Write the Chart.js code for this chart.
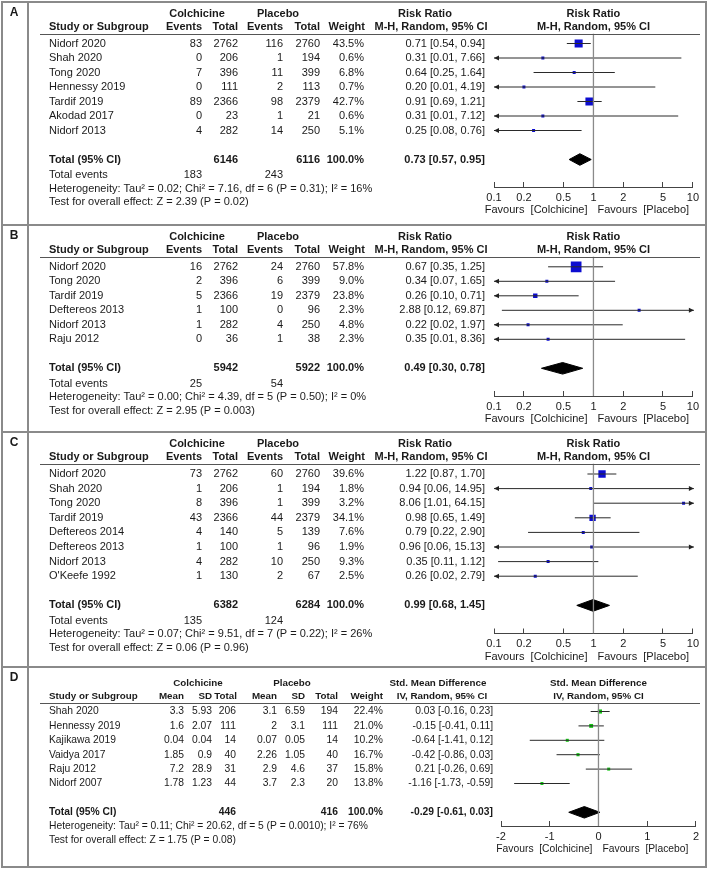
<!DOCTYPE html>
<html>
<head>
<meta charset="utf-8">
<script src="https://cdn.jsdelivr.net/npm/chart.js@4.4.1/dist/chart.umd.min.js"></script>
<style>
html, body { margin: 0; padding: 0; background: #fff; }
#wrap { position: relative; width: 708px; height: 869px; overflow: hidden; }
canvas { position: absolute; left: 0; }
.ln { position: absolute; background: #8a8a8a; }
</style>
</head>
<body>
<div id="wrap">
  <canvas id="cA"></canvas>
  <canvas id="cB"></canvas>
  <canvas id="cC"></canvas>
  <canvas id="cD"></canvas>
  <div class="ln" style="left:1px;top:1px;width:706px;height:2px"></div>
  <div class="ln" style="left:1px;top:866px;width:706px;height:2px"></div>
  <div class="ln" style="left:1px;top:1px;width:2px;height:867px"></div>
  <div class="ln" style="left:705px;top:1px;width:2px;height:867px"></div>
  <div class="ln" style="left:27px;top:1px;width:2px;height:867px"></div>
  <div class="ln" style="left:1px;top:224px;width:706px;height:2px"></div>
  <div class="ln" style="left:1px;top:431px;width:706px;height:2px"></div>
  <div class="ln" style="left:1px;top:666px;width:706px;height:2px"></div>
</div>
<script>
// ---- A: risk ratio, first outcome
const studiesA = ['Nidorf 2020', 'Shah 2020', 'Tong 2020', 'Hennessy 2019', 'Tardif 2019', 'Akodad 2017', 'Nidorf 2013'];
const colEventsA = [83, 0, 7, 0, 89, 0, 4];
const colTotalA = [2762, 206, 396, 111, 2366, 23, 282];
const plaEventsA = [116, 1, 11, 2, 98, 1, 14];
const plaTotalA = [2760, 194, 399, 113, 2379, 21, 250];
const weightA = [43.5, 0.6, 6.8, 0.7, 42.7, 0.6, 5.1];
const rrA = [0.71, 0.31, 0.64, 0.20, 0.91, 0.31, 0.25];
const loA = [0.54, 0.01, 0.25, 0.01, 0.69, 0.01, 0.08];
const hiA = [0.94, 7.66, 1.64, 4.19, 1.21, 7.12, 0.76];
const totalA = [0.73, 0.57, 0.95];
const sumsA = [6146, 6116];
const eventsA = [183, 243];
const hetA = 'Heterogeneity: Tau² = 0.02; Chi² = 7.16, df = 6 (P = 0.31); I² = 16%';
const testA = 'Test for overall effect: Z = 2.39 (P = 0.02)';

// ---- B
const studiesB = ['Nidorf 2020', 'Tong 2020', 'Tardif 2019', 'Deftereos 2013', 'Nidorf 2013', 'Raju 2012'];
const colEventsB = [16, 2, 5, 1, 1, 0];
const colTotalB = [2762, 396, 2366, 100, 282, 36];
const plaEventsB = [24, 6, 19, 0, 4, 1];
const plaTotalB = [2760, 399, 2379, 96, 250, 38];
const weightB = [57.8, 9.0, 23.8, 2.3, 4.8, 2.3];
const rrB = [0.67, 0.34, 0.26, 2.88, 0.22, 0.35];
const loB = [0.35, 0.07, 0.10, 0.12, 0.02, 0.01];
const hiB = [1.25, 1.65, 0.71, 69.87, 1.97, 8.36];
const totalB = [0.49, 0.30, 0.78];
const sumsB = [5942, 5922];
const eventsB = [25, 54];
const hetB = 'Heterogeneity: Tau² = 0.00; Chi² = 4.39, df = 5 (P = 0.50); I² = 0%';
const testB = 'Test for overall effect: Z = 2.95 (P = 0.003)';

// ---- C
const studiesC = ['Nidorf 2020', 'Shah 2020', 'Tong 2020', 'Tardif 2019', 'Deftereos 2014', 'Deftereos 2013', 'Nidorf 2013', "O'Keefe 1992"];
const colEventsC = [73, 1, 8, 43, 4, 1, 4, 1];
const colTotalC = [2762, 206, 396, 2366, 140, 100, 282, 130];
const plaEventsC = [60, 1, 1, 44, 5, 1, 10, 2];
const plaTotalC = [2760, 194, 399, 2379, 139, 96, 250, 67];
const weightC = [39.6, 1.8, 3.2, 34.1, 7.6, 1.9, 9.3, 2.5];
const rrC = [1.22, 0.94, 8.06, 0.98, 0.79, 0.96, 0.35, 0.26];
const loC = [0.87, 0.06, 1.01, 0.65, 0.22, 0.06, 0.11, 0.02];
const hiC = [1.70, 14.95, 64.15, 1.49, 2.90, 15.13, 1.12, 2.79];
const totalC = [0.99, 0.68, 1.45];
const sumsC = [6382, 6284];
const eventsC = [135, 124];
const hetC = 'Heterogeneity: Tau² = 0.07; Chi² = 9.51, df = 7 (P = 0.22); I² = 26%';
const testC = 'Test for overall effect: Z = 0.06 (P = 0.96)';

// ---- D: std. mean difference
const studiesD = ['Shah 2020', 'Hennessy 2019', 'Kajikawa 2019', 'Vaidya 2017', 'Raju 2012', 'Nidorf 2007'];
const colMeanD = [3.3, 1.6, 0.04, 1.85, 7.2, 1.78];
const colSdD = [5.93, 2.07, 0.04, 0.9, 28.9, 1.23];
const colND = [206, 111, 14, 40, 31, 44];
const plaMeanD = [3.1, 2, 0.07, 2.26, 2.9, 3.7];
const plaSdD = [6.59, 3.1, 0.05, 1.05, 4.6, 2.3];
const plaND = [194, 111, 14, 40, 37, 20];
const weightD = [22.4, 21.0, 10.2, 16.7, 15.8, 13.8];
const smdD = [0.03, -0.15, -0.64, -0.42, 0.21, -1.16];
const loD = [-0.16, -0.41, -1.41, -0.86, -0.26, -1.73];
const hiD = [0.23, 0.11, 0.12, 0.03, 0.69, -0.59];
const totalD = [-0.29, -0.61, 0.03];
const sumsD = [446, 416];
const hetD = 'Heterogeneity: Tau² = 0.11; Chi² = 20.62, df = 5 (P = 0.0010); I² = 76%';
const testD = 'Test for overall effect: Z = 1.75 (P = 0.08)';

const rrTicks = [0.1, 0.2, 0.5, 1, 2, 5, 10];
const smdTicks = [-2, -1, 0, 1, 2];

const FONT = '"Liberation Sans", Arial, sans-serif';
const INK = '#1a1a1a';

function f2(v) { return v.toFixed(2); }
function ci(e, l, h) { return f2(e) + ' [' + f2(l) + ', ' + f2(h) + ']'; }

let fsize = 11;
function txt(ctx, s, x, y, align, bold, size) {
    ctx.font = (bold ? 'bold ' : '') + (size || fsize) + 'px ' + FONT;
    ctx.textAlign = align;
    ctx.fillText(s, x, y);
}

function arrow(ctx, x, y, dir) {
    ctx.beginPath();
    ctx.moveTo(x, y);
    ctx.lineTo(x - dir * 5, y - 2.5);
    ctx.lineTo(x - dir * 5, y + 2.5);
    ctx.closePath();
    ctx.fill();
}

const rrHead2 = [['Study or Subgroup', 49, 'left'], ['Events', 202, 'right'], ['Total', 238, 'right'],
    ['Events', 283, 'right'], ['Total', 320, 'right'], ['Weight', 365, 'right'], ['M-H, Random, 95% CI', 431, 'center']];
const rrHead1 = [['Colchicine', 197, 'center'], ['Placebo', 278, 'center'], ['Risk Ratio', 425, 'center']];

const panels = [
    { id: 'cA', label: 'A', top: 2, bottom: 225, headerY: 33.5, firstY: 43.5, step: 14.5, axisY: 187,
      log: true, xmin: 0.1, xmax: 10, ticks: rrTicks, ref: 1, mark: '#0c0cd0', fs: 11, hfs: 11,
      names: studiesA, est: rrA, lo: loA, hi: hiA, weight: weightA, total: totalA,
      cols: [[colEventsA, 202], [colTotalA, 238], [plaEventsA, 283], [plaTotalA, 320]],
      sums: [[sumsA[0], 238], [sumsA[1], 320]], events: [[eventsA[0], 202], [eventsA[1], 283]],
      wX: 364, ciX: 485, head1: rrHead1, head2: rrHead2, plotHead: ['Risk Ratio', 'M-H, Random, 95% CI'],
      het: hetA, test: testA },
    { id: 'cB', label: 'B', top: 225, bottom: 432, headerY: 256.5, firstY: 266.8, step: 14.5, axisY: 396,
      log: true, xmin: 0.1, xmax: 10, ticks: rrTicks, ref: 1, mark: '#0c0cd0', fs: 11, hfs: 11,
      names: studiesB, est: rrB, lo: loB, hi: hiB, weight: weightB, total: totalB,
      cols: [[colEventsB, 202], [colTotalB, 238], [plaEventsB, 283], [plaTotalB, 320]],
      sums: [[sumsB[0], 238], [sumsB[1], 320]], events: [[eventsB[0], 202], [eventsB[1], 283]],
      wX: 364, ciX: 485, head1: rrHead1, head2: rrHead2, plotHead: ['Risk Ratio', 'M-H, Random, 95% CI'],
      het: hetB, test: testB },
    { id: 'cC', label: 'C', top: 432, bottom: 667, headerY: 463.5, firstY: 474, step: 14.6, axisY: 633.5,
      log: true, xmin: 0.1, xmax: 10, ticks: rrTicks, ref: 1, mark: '#0c0cd0', fs: 11, hfs: 11,
      names: studiesC, est: rrC, lo: loC, hi: hiC, weight: weightC, total: totalC,
      cols: [[colEventsC, 202], [colTotalC, 238], [plaEventsC, 283], [plaTotalC, 320]],
      sums: [[sumsC[0], 238], [sumsC[1], 320]], events: [[eventsC[0], 202], [eventsC[1], 283]],
      wX: 364, ciX: 485, head1: rrHead1, head2: rrHead2, plotHead: ['Risk Ratio', 'M-H, Random, 95% CI'],
      het: hetC, test: testC },
    { id: 'cD', label: 'D', top: 667, bottom: 867, headerY: 703, firstY: 711.5, step: 14.4, axisY: 826,
      log: false, xmin: -2, xmax: 2, ticks: smdTicks, ref: 0, mark: '#14c814', plotL: 501, plotR: 697,
      fs: 10.3, hfs: 9.8,
      names: studiesD, est: smdD, lo: loD, hi: hiD, weight: weightD, total: totalD,
      cols: [[colMeanD, 184], [colSdD, 212], [colND, 236], [plaMeanD, 277], [plaSdD, 305], [plaND, 338]],
      sums: [[sumsD[0], 236], [sumsD[1], 338]], events: null,
      wX: 383, ciX: 493,
      head1: [['Colchicine', 198, 'center'], ['Placebo', 292, 'center'], ['Std. Mean Difference', 438, 'center']],
      head2: [['Study or Subgroup', 49, 'left'], ['Mean', 184, 'right'], ['SD', 212, 'right'], ['Total', 237, 'right'],
          ['Mean', 277, 'right'], ['SD', 305, 'right'], ['Total', 338, 'right'], ['Weight', 383, 'right'],
          ['IV, Random, 95% CI', 442, 'center']],
      plotHead: ['Std. Mean Difference', 'IV, Random, 95% CI'],
      het: hetD, test: testD }
];

function tablePlugin(p) {
    const n = p.names.length;
    return {
        id: 'table' + p.label,
        afterDatasetsDraw(chart) {
            const ctx = chart.ctx, a = chart.chartArea, ys = chart.scales.y;
            ctx.save();
            ctx.fillStyle = '#222';
            for (let i = 0; i < n; i++) {
                const y = ys.getPixelForValue(i);
                if (p.lo[i] <= p.xmin) arrow(ctx, a.left, y, -1);
                if (p.hi[i] >= p.xmax) arrow(ctx, a.right + 1, y, 1);
            }
            ctx.restore();
        },
        afterDraw(chart) {
            const ctx = chart.ctx, a = chart.chartArea, xs = chart.scales.x, ys = chart.scales.y;
            const top = a.top;
            fsize = p.fs;
            ctx.save();
            ctx.fillStyle = INK;
            ctx.textBaseline = 'middle';
            ctx.font = 'bold 12px ' + FONT;
            ctx.textAlign = 'center';
            ctx.fillText(p.label, 14, 11);

            p.head1.forEach(h => txt(ctx, h[0], h[1], top - 20, h[2], true, p.hfs));
            p.head2.forEach(h => txt(ctx, h[0], h[1], top - 6.5, h[2], true, p.hfs));
            const mid = xs.getPixelForValue(p.ref);
            txt(ctx, p.plotHead[0], mid, top - 20, 'center', true, p.hfs);
            txt(ctx, p.plotHead[1], mid, top - 6.5, 'center', true, p.hfs);

            ctx.strokeStyle = '#555';
            ctx.lineWidth = 1;
            ctx.beginPath();
            ctx.moveTo(40, Math.round(top) + 0.5);
            ctx.lineTo(700, Math.round(top) + 0.5);
            ctx.stroke();

            for (let i = 0; i < n; i++) {
                const y = ys.getPixelForValue(i);
                txt(ctx, p.names[i], 49, y, 'left', false);
                p.cols.forEach(c => txt(ctx, String(c[0][i]), c[1], y, 'right', false));
                txt(ctx, p.weight[i].toFixed(1) + '%', p.wX, y, 'right', false);
                txt(ctx, ci(p.est[i], p.lo[i], p.hi[i]), p.ciX, y, 'right', false);
            }
            const ty = ys.getPixelForValue(n + 1);
            txt(ctx, 'Total (95% CI)', 49, ty, 'left', true);
            p.sums.forEach(s => txt(ctx, String(s[0]), s[1], ty, 'right', true));
            txt(ctx, '100.0%', p.wX, ty, 'right', true);
            txt(ctx, ci(p.total[0], p.total[1], p.total[2]), p.ciX, ty, 'right', true);

            let fy = ty;
            if (p.events) {
                fy += 15.5;
                txt(ctx, 'Total events', 49, fy, 'left', false);
                p.events.forEach(e => txt(ctx, String(e[0]), e[1], fy, 'right', false));
                fy += 13.5;
            } else {
                fy += 14;
            }
            txt(ctx, p.het, 49, fy, 'left', false);
            txt(ctx, p.test, 49, fy + 13.5, 'left', false);

            const fv = a.bottom + 23;
            txt(ctx, 'Favours  [Colchicine]', mid - 6, fv, 'right', false);
            txt(ctx, 'Favours  [Placebo]', mid + 4, fv, 'left', false);
            ctx.restore();
        }
    };
}

function buildPanel(p) {
    const canvas = document.getElementById(p.id);
    const H = p.bottom - p.top;
    canvas.width = 708;
    canvas.height = H;
    canvas.style.top = p.top + 'px';

    const n = p.names.length;
    const plotL = p.plotL || 494, plotR = p.plotR || 694;
    const yMin = (p.headerY - p.firstY) / p.step;
    const yMax = (p.axisY - p.firstY) / p.step;
    const tRow = n + 1;
    const axisH = 34;

    const datasets = [];
    datasets.push({ data: [{ x: p.ref, y: yMin }, { x: p.ref, y: yMax }], showLine: true,
        borderColor: '#8a8a8a', borderWidth: 1.3, pointRadius: 0 });
    for (let i = 0; i < n; i++) {
        datasets.push({ data: [{ x: p.lo[i], y: i }, { x: p.hi[i], y: i }], showLine: true,
            borderColor: '#2a2a2a', borderWidth: 1, pointRadius: 0,
            clip: { left: 0, right: 1, top: 5, bottom: 5 } });
    }
    datasets.push({ data: p.est.map((v, i) => ({ x: v, y: i })), pointStyle: 'rect',
        pointRadius: p.weight.map(w => Math.max(3, w * 0.185) / (2 * Math.SQRT1_2)),
        backgroundColor: p.mark, borderWidth: 0 });
    const up = datasets.length;
    datasets.push({ data: [{ x: p.total[1], y: tRow }, { x: p.total[0], y: tRow - 0.4 }, { x: p.total[2], y: tRow }],
        showLine: true, borderColor: '#000', borderWidth: 1, pointRadius: 0 });
    datasets.push({ data: [{ x: p.total[1], y: tRow }, { x: p.total[0], y: tRow + 0.4 }, { x: p.total[2], y: tRow }],
        showLine: true, borderColor: '#000', borderWidth: 1, pointRadius: 0, fill: up, backgroundColor: '#000' });

    new Chart(canvas, {
        type: 'scatter',
        data: { datasets: datasets },
        options: {
            responsive: false,
            animation: false,
            events: [],
            plugins: { legend: { display: false }, tooltip: { enabled: false } },
            layout: { padding: { left: plotL, right: 708 - plotR, top: p.headerY - p.top,
                bottom: H - (p.axisY - p.top) - axisH } },
            scales: {
                x: {
                    type: p.log ? 'logarithmic' : 'linear',
                    min: p.xmin, max: p.xmax,
                    afterBuildTicks: s => { s.ticks = p.ticks.map(v => ({ value: v })); },
                    afterFit: s => { s.height = axisH; },
                    ticks: { autoSkip: false, maxRotation: 0, minRotation: 0, padding: 9, color: INK,
                        font: { family: FONT, size: 11 }, callback: v => String(v) },
                    grid: { display: true, drawOnChartArea: false, drawTicks: true, tickLength: -5,
                        tickColor: '#444', tickWidth: 1 },
                    border: { display: true, color: '#444', width: 1 }
                },
                y: { type: 'linear', display: false, reverse: true, min: yMin, max: yMax }
            }
        },
        plugins: [tablePlugin(p)]
    });
}

panels.forEach(buildPanel);
</script>
</body>
</html>
